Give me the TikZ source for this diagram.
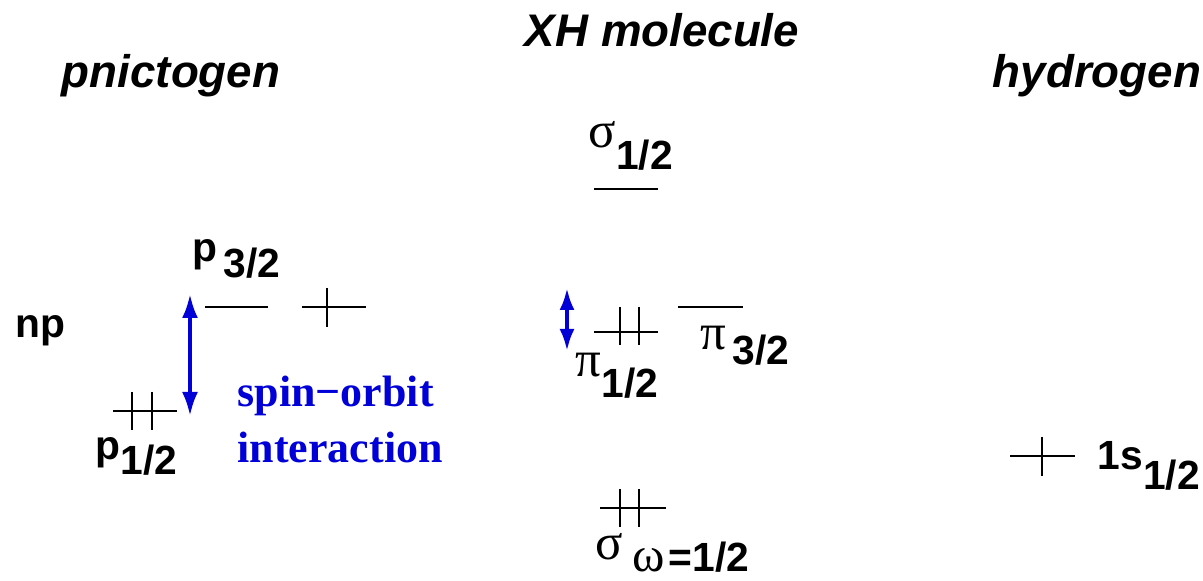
\documentclass[tikz,border=0pt]{standalone}
\usepackage{fontspec}
\setmainfont{Liberation Sans}
\newfontfamily\greek{Liberation Serif}
\usetikzlibrary{arrows.meta}
\definecolor{soblue}{RGB}{0,0,215}
\begin{document}
\begin{tikzpicture}[x=.1mm,y=-.1mm,
  lvl/.style={line width=.6pt},
  lbl/.style={font=\fontsize{11.6}{13}\selectfont\bfseries,anchor=base west,inner sep=0},
  ttl/.style={font=\fontsize{13}{15}\selectfont\bfseries\itshape,anchor=base,inner sep=0},
  sotxt/.style={font=\fontsize{12.5}{14}\selectfont\greek\bfseries,text=soblue,anchor=base west,inner sep=0},
  soarrow/.style={soblue,line width=1.1pt,{Latex[length=2.4mm,width=1.6mm]}-{Latex[length=2.4mm,width=1.6mm]}}]
\useasboundingbox (0,0) rectangle (1203,581);

% titles
\node[ttl] (pnic) at (171,88) {pnictogen};
\node[ttl] (xh) at (662,47) {XH molecule};
\node[ttl] (hyd) at (1097,88) {hydrogen};

% pnictogen levels
\node[lbl] (np) at (15,338) {np};
\draw[lvl] (205,307) -- (268,307);
\draw[lvl] (302,307) -- (366,307);
\draw[lvl] (327,288) -- (327,327);
\draw[lvl] (113,411) -- (177,411);
\foreach \x in {132,152}
{\draw[lvl] (\x,392) -- (\x,430);}
\node[lbl] (p32) at (192,262) {p\hspace{.6mm}\raisebox{-1.6mm}{3/2}};
\node[lbl] (p12) at (95,460) {p\raisebox{-1.5mm}{1/2}};
\coordinate (sotop) at (190,294);
\coordinate (sobot) at (190,416);
\draw[soarrow] (sotop) -- (sobot);
\node[sotxt] (spin) at (237,407) {spin−orbit};
\node[sotxt] (inter) at (237,463) {interaction};

% molecule levels
\draw[lvl] (594,189) -- (658,189);
\node[lbl] (s12) at (588,148) {{\fontsize{14.5}{17}\selectfont\greek\mdseries σ}\raisebox{-2.2mm}{1/2}};
\draw[lvl] (594,332) -- (658,332);
\foreach \x in {620,639}
{\draw[lvl] (\x,307) -- (\x,345);}
\node[lbl] (pi12) at (575,377) {{\fontsize{14.5}{17}\selectfont\greek\mdseries π}\raisebox{-2.1mm}{1/2}};
\draw[lvl] (678,307) -- (743,307);
\node[lbl] (pi32) at (700,350) {{\fontsize{14.5}{17}\selectfont\greek\mdseries π}\hspace{.6mm}\raisebox{-1.5mm}{3/2}};
\coordinate (pitop) at (567,288);
\coordinate (pibot) at (567,351);
\draw[soarrow,{Latex[length=2.2mm,width=1.5mm]}-{Latex[length=2.2mm,width=1.5mm]}] (pitop) -- (pibot);
\draw[lvl] (600,508) -- (666,508);
\foreach \x in {620,639}
{\draw[lvl] (\x,489) -- (\x,527);}
\node[lbl] (sw) at (595,560) {{\fontsize{14.5}{17}\selectfont\greek\mdseries σ}\hspace{.9mm}\raisebox{-1.2mm}{{\fontsize{14}{16}\selectfont\greek\mdseries ω}\hspace{.4mm}=1/2}};

% hydrogen level
\draw[lvl] (1010,456) -- (1075,456);
\draw[lvl] (1042,437) -- (1042,476);
\node[lbl] (h1s) at (1097,470) {1s\raisebox{-2mm}{1/2}};

\end{tikzpicture}
\end{document}
